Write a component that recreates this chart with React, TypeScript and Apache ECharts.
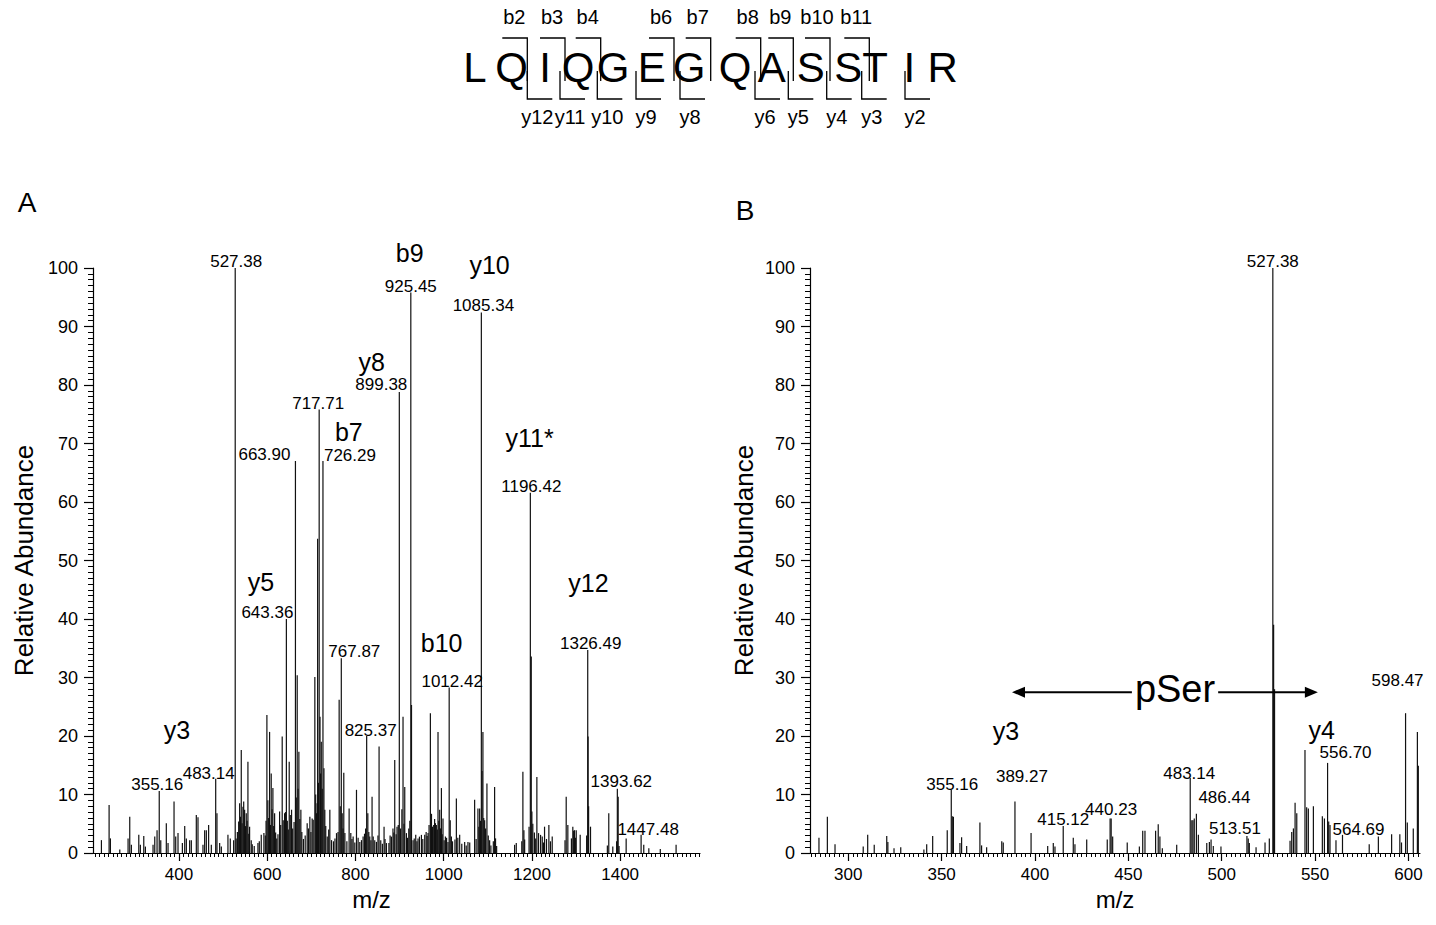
import React, { useEffect, useRef } from "react";
import * as echarts from "echarts";

const FONT = '"Liberation Sans", Arial, Helvetica, sans-serif';

// ---------------- data ----------------
const peptide = ["L", "Q", "I", "Q", "G", "E", "G", "Q", "A", "S", "S", "T", "I", "R"];
const bIons = [2, 3, 4, 6, 7, 8, 9, 10, 11];
const yIons = [12, 11, 10, 9, 8, 6, 5, 4, 3, 2];

const xTicksA = [400, 600, 800, 1000, 1200, 1400];
const xTicksB = [300, 350, 400, 450, 500, 550, 600];
const xRangeA = [205, 1581];
const xRangeB = [279.5, 606.2];
const yRange = [0, 100];

// panel A spectrum: [m/z, relative abundance]
const peaksA: number[][] = [
  [224.1, 2.2], [241.5, 8.2], [244.5, 2.5], [265.7, 0.6], [284.5, 2.5], [288.3, 6.2], [292, 1.4],
  [308.8, 3.1], [312.4, 1.4], [320.1, 2.9], [323.8, 1.1], [341.1, 1.4], [345, 2.8], [350.2, 3.9],
  [355.16, 10.6], [358.6, 2.2], [371.2, 5.1], [375.1, 1.7], [388.7, 8.8], [392.5, 2.8], [397.7, 3.4],
  [407.6, 1.7], [412.9, 4.6], [416.6, 2.5], [424.1, 2.2], [427.9, 2.2], [439.2, 6.5], [443, 6.1],
  [454.3, 1.4], [458.1, 3.9], [461.9, 3.9], [467.1, 4.8], [473.2, 1.4], [483.14, 12.7], [486, 6.8],
  [492.1, 1.7], [495.9, 1.1], [510.9, 3.1], [516.2, 2.5], [523.8, 2.2], [527.38, 100], [529.5, 2.5],
  [532.3, 3.6], [535.2, 5.4], [537.4, 8.5], [539.3, 6.2], [541.1, 17.6], [543, 5.1], [544.9, 7.9],
  [546.6, 8.8], [548.7, 7.4], [550.5, 4.6], [552.4, 6.8], [554.3, 5.5], [556.2, 15.6], [558.1, 3.3],
  [560, 4.5], [563.7, 2.2], [566, 1.5], [570.5, 1.2], [578.9, 1.7], [582, 2], [586.4, 3.1], [592.4, 3.4],
  [595.6, 3], [597.3, 5.5], [599.2, 23.6], [601.4, 9], [603.2, 6], [605.3, 20.7], [607.3, 4.8], [609, 13.6],
  [611, 7.5], [612.8, 11.1], [614.6, 4.6], [616.7, 6.8], [619, 3.5], [621.5, 2.5], [624.3, 3.2], [628, 7.1],
  [630.5, 4.8], [633.9, 19.9], [636.2, 5.6], [639.3, 6.8], [641.4, 7], [643.36, 40], [645.5, 5.5],
  [647.7, 4], [649.8, 15.6], [652.2, 6.5], [655.1, 7.4], [657.6, 4.2], [660.8, 5.3], [663.9, 67],
  [665.8, 9.5], [667.9, 30.4], [669.8, 11], [671.7, 17.3], [673.8, 5.8], [676.2, 7.4], [678.4, 3.6],
  [682, 2.4], [686, 3], [690.5, 5.1], [693.3, 4.2], [696.6, 6.2], [699, 3.6], [701.8, 5.9], [704.2, 5.7],
  [707.9, 30.1], [709.8, 10], [711.7, 6.8], [713, 8.5], [714.2, 53.7], [716, 12], [717.71, 75.8],
  [719.6, 23.3], [721, 13.6], [722.5, 19], [724.6, 11], [726.29, 67], [728.5, 14.5], [730.5, 7.4],
  [732.6, 4.6], [736, 2.8], [739.3, 4], [741.9, 7.4], [745.7, 2.2], [750, 2], [753.5, 2.5], [757, 3.4],
  [760.5, 3.6], [763, 26.2], [765.5, 8], [767.87, 33.3], [769.9, 6.8], [771.8, 4.2], [773.5, 13.7],
  [776, 3.4], [780.5, 2], [785.6, 7.6], [789.4, 3.4], [792, 2.4], [794.7, 2.8], [798.5, 1.8], [802.3, 10.8],
  [806, 2.6], [809.8, 1.9], [813.6, 2.2], [817.3, 2.8], [820.5, 3.3], [823, 4.2], [825.37, 20], [828, 6.8],
  [830.2, 3.6], [832.4, 2.8], [835, 2.2], [837.6, 9.6], [840.2, 2.8], [843.7, 2.2], [847.5, 1.9], [851, 3],
  [853.5, 18.2], [857.3, 2.2], [861, 1.6], [864.8, 4.5], [867, 2.4], [870.2, 1.7], [875.8, 1.7], [878.5, 3],
  [881.5, 2.8], [885, 4.2], [887, 3.5], [889, 15.9], [892.2, 3.2], [894.2, 4.5], [897, 4.8], [899.38, 78.8],
  [902.3, 4.2], [905.2, 7.5], [907.8, 23.3], [910, 5], [911.7, 11.3], [915.5, 3.4], [918, 2.6], [920.8, 4.2],
  [923.2, 5.5], [925.45, 95.8], [927, 25.3], [930.5, 2.2], [933.2, 2.5], [936.6, 3.1], [939.3, 2],
  [941.8, 2.5], [945, 2.8], [949.5, 3.1], [952.6, 2.4], [957, 3.1], [960.2, 3.6], [962.4, 2.9], [964.5, 3.4],
  [966.8, 4.8], [969.8, 23.9], [972.3, 6.7], [974.4, 4.5], [977.3, 4.8], [979.4, 5.8], [981.2, 5.1],
  [983.3, 4.8], [985.5, 4], [987.1, 20.7], [989, 5.5], [990.9, 7.4], [992.8, 4.2], [994.8, 11.1],
  [996.5, 3.2], [998.4, 5.9], [1001, 2.2], [1003.8, 2.8], [1006.5, 2.6], [1009.7, 1.9], [1012.42, 28.3],
  [1014.8, 5.6], [1017.4, 2.8], [1020, 2], [1025.5, 2.3], [1028.7, 9.3], [1032, 2.6], [1036.2, 3.1],
  [1041, 1.6], [1047.5, 1.9], [1051, 1.3], [1055, 1.9], [1059, 1.8], [1070.1, 9.1], [1073.5, 2.4],
  [1077.6, 7.6], [1079.6, 4.5], [1081.5, 7.6], [1083.5, 5.5], [1085.34, 92.4], [1086.9, 14], [1088.9, 20.7],
  [1090.7, 6], [1092.8, 5.6], [1095, 4.2], [1098, 11.9], [1101, 3], [1104.1, 2.2], [1107, 1.3], [1112.5, 2],
  [1115.4, 11.3], [1117.5, 2.5], [1120, 1.2], [1160.7, 1.4], [1164.5, 1.7], [1177, 2], [1179.5, 13.9],
  [1181.8, 3.9], [1183.5, 2.3], [1193.5, 4.5], [1196.42, 61.6], [1198.5, 33.6], [1199.9, 7.1], [1202, 5],
  [1205.6, 3.5], [1208.5, 2.5], [1211.2, 13], [1215, 3.4], [1219.6, 3.1], [1223.4, 2.8], [1226, 1.8],
  [1228.6, 4.5], [1233, 2.4], [1238.4, 4.8], [1242, 2], [1246, 2.8], [1275, 2.2], [1277.7, 9.6],
  [1281.4, 4.8], [1289.5, 2.5], [1292.7, 4.5], [1294.6, 3.8], [1296.5, 3.9], [1298.5, 2.6], [1300.4, 3.9],
  [1309.4, 3.1], [1324, 3], [1326.49, 34.7], [1327.3, 19.9], [1328.5, 8], [1332.8, 4.5], [1371, 1.3],
  [1374.2, 6.8], [1383.3, 1.1], [1392, 2], [1393.62, 11], [1395.5, 9.6], [1397.5, 1.2], [1413.6, 2.5],
  [1447.48, 3.1], [1453.5, 1.4], [1465, 0.8], [1491, 0.7], [1526.8, 1.4],
];

// panel B spectrum: [m/z, relative abundance]
const peaksB: number[][] = [
  [284.3, 2.6], [288.8, 6.2], [292.9, 1.5], [308, 1.1], [310.4, 3.1], [313.9, 1.4], [320.6, 2.9],
  [321.2, 1.9], [324.5, 0.8], [328.1, 1], [340.5, 0.6], [342, 1.5], [345.2, 2.9], [353, 3.9],
  [355.16, 10.8], [355.7, 6.3], [356.3, 6.2], [359.8, 1.7], [360.7, 2.7], [363.4, 1.2], [370.5, 5.2],
  [371.4, 1.3], [374.1, 1], [382.2, 2], [383, 1.8], [389.27, 8.8], [397.9, 3.4], [406.8, 1.2],
  [409.8, 1.7], [410.7, 1.1], [415.12, 4.6], [420.5, 2.6], [421.4, 1.5], [427.7, 2.3], [438.7, 2.3],
  [440.23, 5.9], [440.8, 5.9], [441.6, 2.8], [449.4, 1.8], [455.9, 1.1], [457.7, 3.8], [458.9, 3.8],
  [464.6, 3.8], [466, 4.9], [466.9, 2.8], [468.2, 0.8], [475.9, 1.4], [483.14, 12.8], [484, 5.6],
  [484.6, 5.6], [485.3, 5.9], [486.44, 6.7], [487.5, 3.1], [492, 1.7], [493.4, 1.9], [494.3, 2.3],
  [495.5, 1.2], [499.6, 1.1], [513.51, 2.9], [514.2, 2.5], [514.8, 1.7], [518.4, 1], [523.2, 1.8],
  [525.5, 2.5], [527.38, 100], [527.8, 39], [528.3, 28], [536.6, 2.1], [537.5, 3.6], [538.4, 4.2],
  [539.3, 8.6], [540.2, 6.8], [544.6, 17.6], [545.5, 7.8], [546.4, 7.6], [549.1, 8], [553.9, 6.3],
  [555, 5.9], [556.7, 15.4], [557.3, 5.4], [558, 4.8], [561.2, 2.2], [564.69, 3.1], [579, 1.5],
  [583.9, 2.8], [591, 3.2], [595.4, 3.2], [596.3, 1.8], [598.47, 23.9], [599.4, 5.2], [602.6, 4.2],
  [604.8, 20.7], [605.3, 14.9],
];

// peaks carrying an m/z label
const labeledA = [355.16, 483.14, 527.38, 643.36, 663.9, 717.71, 726.29, 767.87, 825.37, 899.38, 925.45,
  1012.42, 1085.34, 1196.42, 1326.49, 1393.62, 1447.48];
const labeledB = [355.16, 389.27, 415.12, 440.23, 483.14, 486.44, 513.51, 527.38, 556.7, 564.69, 598.47];

// fragment-ion annotations [m/z, abundance] where the name sits
const ionNamesA = ["y3", "y5", "b7", "y8", "b9", "y10", "y11*", "y12", "b10"];
const ionPosA: number[][] = [[395.5, 21], [585.6, 46.3], [784.9, 72], [837, 83.9], [923, 102.6],
  [1104, 100.5], [1194.7, 70.9], [1328.2, 46.2], [995.4, 35.9]];
const ionNamesB = ["y3", "y4"];
const ionPosB: number[][] = [[384.5, 20.9], [553.6, 21]];

// neutral-loss arrow in panel B: [from m/z, to m/z, level, text m/z]
const pSerArrow = [387.7, 551.5, 27.5, 475];
const pSerText = "pSer";

// ---------------- layout / style ----------------
const headerLetterX = [475, 511.7, 545, 578, 613, 651.7, 689, 735, 771.7, 810.7, 848.3, 875, 909.3, 942.7];
// x of the bracket for each shown b / y ion (same order as bIons / yIons)
const bBracketX = [527.3, 565, 600.7, 674, 710.7, 760.7, 793.3, 830, 869.3];
const yBracketX = [527.3, 560, 597.3, 636, 680, 755, 788.3, 826.7, 861.7, 905];

const labelOffsetA: Record<string, number[]> = {
  "355.16": [-2, -6], "483.14": [-7, -5], "527.38": [1, -7], "643.36": [-19, -7], "663.90": [-31, -7],
  "717.71": [-1, -6], "726.29": [27, -6], "767.87": [13, -7], "825.37": [4, -6], "899.38": [-18, -8],
  "925.45": [0, -6], "1012.42": [3, -6], "1085.34": [2, -7], "1196.42": [1, -6], "1326.49": [3, -7],
  "1393.62": [4, -7], "1447.48": [7, -5],
};
const labelOffsetB: Record<string, number[]> = {
  "355.16": [1, -5], "389.27": [7, -25], "415.12": [0, -7], "440.23": [1, -9], "483.14": [-1, -5],
  "486.44": [28, -16], "513.51": [-12, -8], "527.38": [0, -7], "556.70": [18, -10], "564.69": [16, -5],
  "598.47": [-8, -33],
};

function minorValues(from: number, to: number, step: number) {
  const out: number[] = [];
  for (let v = from; v <= to + 1e-9; v += step) out.push(Math.round(v * 100) / 100);
  return out;
}

const lineStyle = { color: "#000", width: 1.2 };

function mainX(grid: number, range: number[], ticks: number[], namePadRight: number) {
  return {
    gridIndex: grid, type: "value", min: range[0], max: range[1], position: "bottom",
    axisLine: { show: true, onZero: false, lineStyle },
    axisTick: { show: true, customValues: ticks, length: 8, lineStyle },
    axisLabel: {
      show: true, customValues: ticks, fontSize: 17, color: "#000", margin: 13, fontFamily: FONT,
      formatter: (v: number) => String(v),
    },
    splitLine: { show: false },
    name: "m/z", nameLocation: "middle", nameGap: 23,
    nameTextStyle: { fontSize: 24, color: "#000", fontFamily: FONT, padding: [0, namePadRight, 0, 0] },
  };
}
function minorX(grid: number, range: number[], values: number[]) {
  return {
    gridIndex: grid, type: "value", min: range[0], max: range[1], position: "bottom",
    axisLine: { show: false, onZero: false },
    axisTick: { show: true, customValues: values, length: 4, lineStyle: { color: "#000", width: 1 } },
    axisLabel: { show: false },
    splitLine: { show: false },
  };
}
function yAx(grid: number, nameGap: number) {
  return {
    gridIndex: grid, type: "value", min: yRange[0], max: yRange[1], interval: 10,
    axisLine: { show: true, lineStyle },
    axisTick: { show: true, length: 9, lineStyle },
    minorTick: { show: true, splitNumber: 10, length: 5, lineStyle: { color: "#000", width: 1 } },
    axisLabel: { fontSize: 18, color: "#000", margin: 15, fontFamily: FONT },
    splitLine: { show: false }, minorSplitLine: { show: false },
    name: "Relative Abundance", nameLocation: "middle", nameGap,
    nameTextStyle: { fontSize: 26, color: "#000", fontFamily: FONT },
  };
}

function stickSeries(data: number[][], xi: number, yi: number) {
  return {
    type: "custom", xAxisIndex: xi, yAxisIndex: yi, data, clip: false, silent: true, z: 2,
    renderItem: (params: any, api: any) => {
      const x = api.value(0);
      const a = api.coord([x, 0]);
      const b = api.coord([x, api.value(1)]);
      return {
        type: "line",
        shape: { x1: a[0], y1: a[1], x2: b[0], y2: b[1] },
        style: { stroke: "#111", lineWidth: 1.2 },
      };
    },
  };
}

function peakLabelSeries(labeled: number[], peaks: number[][], offsets: Record<string, number[]>, xi: number, yi: number) {
  const items = labeled.map((mz) => {
    const p = peaks.find((d) => Math.abs(d[0] - mz) < 1e-6);
    return [mz, p ? p[1] : 0];
  });
  return {
    type: "custom", xAxisIndex: xi, yAxisIndex: yi, data: items, clip: false, silent: true, z: 5,
    renderItem: (params: any, api: any) => {
      const mz = api.value(0);
      const txt = mz.toFixed(2);
      const off = offsets[txt] || [0, -7];
      const p = api.coord([mz, api.value(1)]);
      return {
        type: "text", x: p[0] + off[0], y: p[1] + off[1],
        style: { text: txt, fill: "#000", fontSize: 17, fontFamily: FONT, align: "center", verticalAlign: "middle", textAlign: "center", textVerticalAlign: "middle" },
      };
    },
  };
}

function ionSeries(names: string[], pos: number[][], xi: number, yi: number) {
  return {
    type: "custom", xAxisIndex: xi, yAxisIndex: yi, data: pos, clip: false, silent: true, z: 5,
    renderItem: (params: any, api: any) => {
      const p = api.coord([api.value(0), api.value(1)]);
      return {
        type: "text", x: p[0], y: p[1],
        style: { text: names[params.dataIndex], fill: "#000", fontSize: 25, fontFamily: FONT, align: "center", verticalAlign: "middle", textAlign: "center", textVerticalAlign: "middle" },
      };
    },
  };
}

function arrowSeries(xi: number, yi: number) {
  return {
    type: "custom", xAxisIndex: xi, yAxisIndex: yi, data: [pSerArrow], clip: false, silent: true, z: 6,
    renderItem: (params: any, api: any) => {
      const lv = api.value(2);
      const a = api.coord([api.value(0), lv]);
      const b = api.coord([api.value(1), lv]);
      const t = api.coord([api.value(3), lv]);
      const ah = 13, aw = 5.5;
      return {
        type: "group",
        children: [
          { type: "line", shape: { x1: a[0] + ah - 1, y1: a[1], x2: b[0] - ah + 1, y2: b[1] }, style: { stroke: "#000", lineWidth: 2 } },
          { type: "polygon", shape: { points: [[a[0], a[1]], [a[0] + ah, a[1] - aw], [a[0] + ah, a[1] + aw]] }, style: { fill: "#000" } },
          { type: "polygon", shape: { points: [[b[0], b[1]], [b[0] - ah, b[1] - aw], [b[0] - ah, b[1] + aw]] }, style: { fill: "#000" } },
          {
            type: "text", x: t[0], y: t[1] - 3,
            style: { text: pSerText, fill: "#000", fontSize: 38, fontFamily: FONT, align: "center", verticalAlign: "middle", textAlign: "center", textVerticalAlign: "middle", backgroundColor: "#fff", padding: [0, 3] },
          },
        ],
      };
    },
  };
}

function headerGraphics() {
  const els: any[] = [];
  const txt = (text: string, x: number, y: number, size: number) => ({
    type: "text", x, y,
    style: { text, fill: "#000", fontSize: size, fontFamily: FONT, align: "center", verticalAlign: "middle", textAlign: "center", textVerticalAlign: "middle" },
  });
  peptide.forEach((r, i) => els.push(txt(r, headerLetterX[i], 67, 42)));
  const stroke = { stroke: "#000", lineWidth: 1.3, fill: null };
  bIons.forEach((n, i) => {
    const g = bBracketX[i];
    els.push({ type: "polyline", shape: { points: [[g - 25, 38], [g, 38], [g, 81]] }, style: stroke });
    els.push(txt("b" + n, g - 13, 17, 20));
  });
  yIons.forEach((m, i) => {
    const g = yBracketX[i];
    els.push({ type: "polyline", shape: { points: [[g, 71], [g, 99], [g + 25, 99]] }, style: stroke });
    els.push(txt("y" + m, g + 10, 117, 20));
  });
  els.push(txt("A", 27, 202, 28));
  els.push(txt("B", 745, 210, 28));
  return els;
}

export default function App() {
  const ref = useRef<HTMLDivElement>(null);
  useEffect(() => {
    if (!ref.current) return;
    const chart = echarts.init(ref.current, null, { renderer: "svg" });
    const option: any = {
      animation: false,
      backgroundColor: "#fff",
      grid: [
        { left: 93, top: 268, width: 607, height: 585, outerBoundsMode: "none" },
        { left: 810, top: 268, width: 610, height: 585, outerBoundsMode: "none" },
      ],
      xAxis: [
        mainX(0, xRangeA, xTicksA, 50),
        minorX(0, xRangeA, minorValues(210, 1580, 10)),
        mainX(1, xRangeB, xTicksB, 0),
        minorX(1, xRangeB, minorValues(280, 605, 2.5)),
      ],
      yAxis: [yAx(0, 56), yAx(1, 53)],
      series: [
        stickSeries(peaksA, 0, 0),
        stickSeries(peaksB, 2, 1),
        peakLabelSeries(labeledA, peaksA, labelOffsetA, 0, 0),
        peakLabelSeries(labeledB, peaksB, labelOffsetB, 2, 1),
        ionSeries(ionNamesA, ionPosA, 0, 0),
        ionSeries(ionNamesB, ionPosB, 2, 1),
        arrowSeries(2, 1),
      ],
      graphic: headerGraphics(),
    };
    chart.setOption(option);
    return () => chart.dispose();
  }, []);
  return <div ref={ref} style={{ position: "absolute", left: 0, top: 0, width: 1436, height: 925, background: "#fff" }} />;
}
